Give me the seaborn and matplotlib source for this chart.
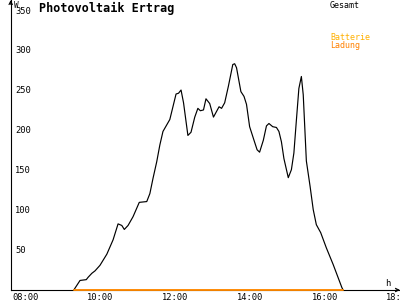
import matplotlib
matplotlib.use("Agg")
import matplotlib.pyplot as plt
import matplotlib.transforms as mtransforms
import numpy as np
import pandas as pd
import seaborn as sns

# ---- data ----
times = ["09:33", "09:43", "09:53", "09:56", "10:02", "10:07", "10:15", "10:26",
         "10:36", "10:44", "10:50", "10:54", "11:00", "11:08", "11:18", "11:30",
         "11:35", "11:40", "11:46", "11:51", "11:56", "12:07", "12:17", "12:21",
         "12:25", "12:29", "12:36", "12:41", "12:47", "12:52", "12:56", "13:01",
         "13:05", "13:11", "13:17", "13:26", "13:30", "13:35", "13:41", "13:48",
         "13:51", "13:54", "14:01", "14:06", "14:10", "14:15", "14:22", "14:27",
         "14:31", "14:37", "14:42", "14:46", "14:52", "14:58", "15:02", "15:06",
         "15:10", "15:17", "15:22", "15:26", "15:30", "15:34", "15:38", "15:41",
         "15:46", "15:52", "15:57", "16:02", "16:09", "16:18", "16:29", "16:43",
         "16:45"]
gesamt = [0, 12, 13, 16, 21, 24, 31, 45,
          63, 83, 81, 76, 81, 92, 110, 111,
          121, 140, 161, 182, 199, 214, 246, 247,
          251, 235, 194, 198, 217, 228, 225, 226,
          240, 234, 217, 230, 228, 235, 256, 283,
          284, 279, 249, 243, 233, 205, 188, 176,
          173, 188, 206, 209, 205, 204, 199, 186,
          165, 141, 151, 172, 213, 253, 268, 245,
          162, 130, 101, 82, 72, 53, 32, 3,
          0]
batterie = [0] * len(times)
ladung = [0] * len(times)

y_ticks = [50, 100, 150, 200, 250, 300, 350]
x_ticks = [8, 10, 12, 14, 16, 18]
x_tick_labels = ["08:00", "10:00", "12:00", "14:00", "16:00", "18:00"]

series_names = ["Gesamt", "Batterie", "Ladung"]
series_colors = ["#000000", "#FFB000", "#FF8000"]

title = "Photovoltaik Ertrag"

# ---- build table ----
hours = (pd.to_timedelta([t + ":00" for t in times]).total_seconds() / 3600.0).to_numpy()
df = pd.DataFrame({"h": hours, "Gesamt": gesamt, "Batterie": batterie, "Ladung": ladung})

sns.set_style("white")
plt.rcParams["font.family"] = ["DejaVu Sans Mono", "DejaVu Sans"]

W, H = 400, 300
fig = plt.figure(figsize=(4, 3), dpi=100)
fig.patch.set_facecolor("white")
ax_left = 10.7
ax_bottom = 290.0
ax = fig.add_axes([ax_left / W, (H - ax_bottom) / H, (W - ax_left) / W, ax_bottom / H])
ax.set_facecolor("white")

lw = 0.85
sns.lineplot(data=df, x="h", y="Gesamt", ax=ax, color=series_colors[0], lw=lw,
             estimator=None, clip_on=False, zorder=3)
sns.lineplot(data=df, x="h", y="Batterie", ax=ax, color=series_colors[1], lw=1.1,
             estimator=None, clip_on=False, zorder=4)
sns.lineplot(data=df, x="h", y="Ladung", ax=ax, color=series_colors[2], lw=1.1,
             estimator=None, clip_on=False, zorder=5)

ax.set_xlim(7.863, 18.27)
ax.set_ylim(0, 364)
ax.set_xlabel("")
ax.set_ylabel("")

for s in ["top", "right"]:
    ax.spines[s].set_visible(False)
for s in ["left", "bottom"]:
    ax.spines[s].set_color("black")
    ax.spines[s].set_linewidth(0.8)

ax.set_yticks(y_ticks)
ax.set_xticks(x_ticks)
ax.tick_params(axis="y", direction="inout", length=3.6, width=0.8, color="black",
               labelleft=False)
ax.tick_params(axis="x", direction="inout", length=4.3, width=0.8, color="black",
               labelbottom=False)

# arrow heads on axes
ax.annotate("", xy=(0, 1.0), xytext=(0, 0.985), xycoords="axes fraction",
            arrowprops=dict(arrowstyle="->", lw=0.8, color="black",
                            mutation_scale=6, shrinkA=0, shrinkB=0))
ax.annotate("", xy=(1.0, 0), xytext=(0.99, 0), xycoords="axes fraction",
            arrowprops=dict(arrowstyle="->", lw=0.8, color="black",
                            mutation_scale=6, shrinkA=0, shrinkB=0))

px = 1.0 / 100.0
fs_tick = 6.3

# y tick labels (right of the axis)
ytrans = mtransforms.blended_transform_factory(ax.transAxes, ax.transData) + \
    mtransforms.ScaledTranslation(4.3 * px, 0, fig.dpi_scale_trans)
for v in y_ticks:
    ax.text(0, v, str(v), transform=ytrans, ha="left", va="center",
            fontsize=fs_tick, color="black")

# x tick labels
xtrans = mtransforms.blended_transform_factory(ax.transData, ax.transAxes) + \
    mtransforms.ScaledTranslation(-3.5 * px, -3.5 * px, fig.dpi_scale_trans)
for v, lab in zip(x_ticks, x_tick_labels):
    ax.text(v, 0, lab, transform=xtrans, ha="left", va="top",
            fontsize=fs_tick, color="black", clip_on=False)

# unit labels
fig.text(13.5 / W, 1 - 0.5 / H, "W", ha="left", va="top", fontsize=5.5, color="black")
fig.text(385 / W, 1 - 278.5 / H, "h", ha="left", va="top", fontsize=6.3, color="black")

# title
fig.text(39 / W, 1 - 1.5 / H, title, ha="left", va="top", fontsize=8.5,
         fontweight="bold", color="black")

# legend texts
leg_y = [1.0, 32.5, 40.5]
for name, col, yy in zip(series_names, series_colors, leg_y):
    fig.text(330 / W, 1 - yy / H, name, ha="left", va="top", fontsize=6.0, color=col)

fig.savefig("out.png", dpi=100, facecolor="white")
